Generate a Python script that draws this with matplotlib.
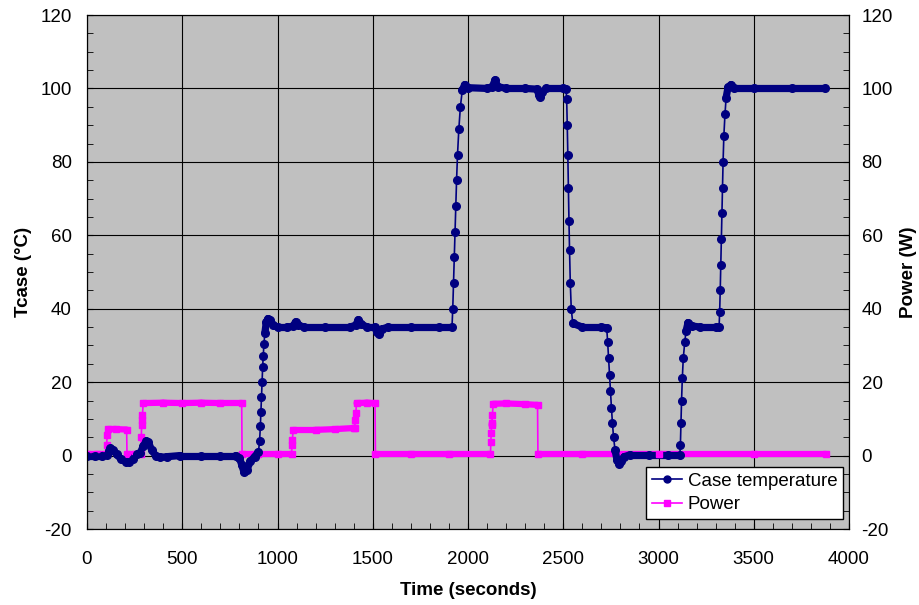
import numpy as np
import matplotlib.pyplot as plt
from matplotlib.collections import LineCollection
from matplotlib.lines import Line2D
from matplotlib.ticker import MultipleLocator

plt.rcParams["font.family"] = ["Liberation Sans", "DejaVu Sans"]
plt.rcParams["axes.unicode_minus"] = False

# case temperature (seconds, degC)
temp_points = [(0, 0.0), (40, 0.0), (80, 0.0), (105, 0.2), (115, 1.2), (122, 2.1), (135, 1.5),
               (155, 0.3), (180, -1.0), (205, -1.7), (220, -1.8), (240, -0.8), (260, 0.3),
               (280, 0.8), (295, 2.5), (310, 4.0), (322, 3.6), (340, 1.5), (360, 0.0),
               (383, -0.5), (420, -0.3), (488, 0.0), (600, 0.0), (700, 0.0), (780, 0.0),
               (800, -0.6), (812, -2.5), (824, -4.5), (840, -3.8), (858, -1.5), (880, -0.3),
               (900, 1.0), (906, 4.0), (910, 8.0), (913, 12.0), (916, 16.0), (919, 20.0),
               (922, 24.0), (925, 27.0), (929, 30.5), (934, 33.5), (941, 36.3), (950, 37.3),
               (962, 36.8), (978, 35.5), (1000, 35.0), (1050, 35.0), (1080, 35.2), (1095, 36.4),
               (1110, 35.5), (1140, 35.0), (1250, 35.0), (1380, 35.0), (1410, 35.5), (1425, 37.0),
               (1440, 35.8), (1470, 35.0), (1510, 35.0), (1522, 33.6), (1533, 33.0), (1550, 34.5),
               (1580, 35.0), (1700, 35.0), (1850, 35.0), (1916, 35.0), (1920, 40.0), (1924, 47.0),
               (1928, 54.0), (1932, 61.0), (1936, 68.0), (1940, 75.0), (1945, 82.0), (1952, 89.0),
               (1960, 95.0), (1970, 99.5), (1982, 101.0), (2000, 100.2), (2100, 100.0),
               (2128, 100.5), (2142, 102.3), (2156, 100.5), (2200, 100.0), (2300, 100.0),
               (2362, 99.8), (2372, 98.2), (2380, 97.6), (2390, 99.0), (2410, 100.0),
               (2500, 100.0), (2515, 99.8), (2518, 97.0), (2521, 90.0), (2524, 82.0),
               (2527, 73.0), (2530, 64.0), (2533, 56.0), (2537, 47.0), (2542, 40.0),
               (2550, 36.0), (2600, 35.0), (2700, 35.0), (2728, 34.8), (2733, 31.0),
               (2738, 26.5), (2743, 22.0), (2748, 17.5), (2753, 13.0), (2758, 9.0), (2764, 5.0),
               (2772, 1.5), (2782, -1.2), (2792, -2.2), (2805, -1.6), (2820, -0.3), (2850, 0.2),
               (2950, 0.2), (3050, 0.2), (3112, 0.2), (3115, 3.0), (3118, 9.0), (3121, 15.0),
               (3125, 21.0), (3130, 26.5), (3138, 31.0), (3145, 34.0), (3155, 36.2),
               (3175, 35.3), (3220, 35.0), (3300, 35.0), (3318, 35.0), (3321, 39.0),
               (3324, 45.0), (3327, 52.0), (3330, 59.0), (3333, 66.0), (3336, 73.0),
               (3339, 80.0), (3343, 87.0), (3349, 93.0), (3355, 97.5), (3365, 100.3),
               (3380, 101.0), (3395, 100.0), (3500, 100.0), (3700, 100.0), (3874, 100.0)]

# power dissipated (seconds, W)
power_points = [(0, 0.5), (50, 0.5), (100, 0.5), (103, 3.0), (106, 5.5), (110, 7.2), (150, 7.2),
                (208, 7.1), (210, 0.5), (250, 0.5), (283, 0.5), (285, 5.0), (287, 8.3),
                (289, 9.7), (291, 11.0), (295, 14.3), (400, 14.4), (500, 14.3), (600, 14.4),
                (700, 14.3), (812, 14.3), (814, 0.5), (900, 0.5), (1000, 0.5), (1074, 0.5),
                (1076, 2.9), (1078, 4.2), (1082, 7.0), (1200, 7.0), (1300, 7.2), (1400, 7.5),
                (1405, 7.6), (1408, 9.7), (1411, 11.6), (1415, 14.3), (1470, 14.4), (1512, 14.3),
                (1514, 0.5), (1700, 0.5), (1900, 0.5), (2118, 0.5), (2120, 3.8), (2122, 6.1),
                (2124, 8.3), (2126, 9.0), (2128, 11.0), (2132, 14.1), (2200, 14.2), (2300, 14.0),
                (2365, 13.8), (2367, 0.5), (2600, 0.5), (3000, 0.5), (3500, 0.5), (3879, 0.5)]

temp_time, temp_vals = zip(*temp_points)
power_time, power_vals = zip(*power_points)


def draw_series(ax, t, v, color, marker, ms, band):
    # flat parts look like a fat band of overlapping markers, steep parts are thin
    t = np.asarray(t, float)
    v = np.asarray(v, float)
    pts = np.column_stack([t, v])
    segs = np.stack([pts[:-1], pts[1:]], axis=1)
    slope = np.abs(np.diff(v) / np.diff(t))
    widths = np.where(slope < 0.4, band, 1.2)
    lc = LineCollection(segs, colors=color, linewidths=widths, capstyle="round", zorder=3)
    ax.add_collection(lc)
    ax.plot(t, v, linestyle="none", marker=marker, ms=ms, color=color, zorder=4)


fig = plt.figure(figsize=(9.19, 6.05), dpi=100)
ax = fig.add_axes([87 / 919, 1 - 529 / 605, 762 / 919, 514 / 605])
ax2 = ax.twinx()

ax.set_facecolor("#C0C0C0")
ax.set_xlim(0, 4000)
ax.set_ylim(-20, 120)
ax2.set_ylim(-20, 120)

ax.xaxis.set_major_locator(MultipleLocator(500))
ax.xaxis.set_minor_locator(MultipleLocator(100))
ax.yaxis.set_major_locator(MultipleLocator(20))
ax.yaxis.set_minor_locator(MultipleLocator(5))
ax2.yaxis.set_major_locator(MultipleLocator(20))
ax2.yaxis.set_minor_locator(MultipleLocator(5))

ax.grid(True, which="major", color="black", linewidth=0.8)
ax.set_axisbelow(True)

ax.tick_params(axis="both", which="both", direction="in", labelsize=13.5, colors="black")
ax.tick_params(axis="both", which="major", length=4)
ax.tick_params(axis="both", which="minor", length=4)
ax.tick_params(axis="y", pad=11)
ax.tick_params(axis="x", pad=16)
ax2.tick_params(axis="y", which="both", direction="in", length=4, labelsize=13.5, pad=9)

draw_series(ax, power_time, power_vals, "#FF00FF", "s", 4.5, 4.5)
draw_series(ax, temp_time, temp_vals, "#000080", "o", 5.5, 5.2)

ax.set_xlabel("Time (seconds)", fontsize=13.5, fontweight="bold", labelpad=10)
ax.set_ylabel("Tcase (°C)", fontsize=13.5, fontweight="bold", labelpad=6)
ax2.set_ylabel("Power (W)", fontsize=13.5, fontweight="bold", labelpad=5)

handles = [Line2D([], [], color="#000080", marker="o", ms=5, lw=1.2),
           Line2D([], [], color="#FF00FF", marker="s", ms=4, lw=1.2)]
leg = ax.legend(handles, ["Case temperature", "Power"], loc="lower right",
                bbox_to_anchor=(0.992, 0.0195), fontsize=13.5, frameon=True, fancybox=False,
                edgecolor="black", framealpha=1, borderpad=0.3, handlelength=1.6,
                handletextpad=0.3, labelspacing=0.35, borderaxespad=0)
leg.get_frame().set_linewidth(1.0)
leg.set_zorder(10)

plt.savefig("out.png", dpi=100)
